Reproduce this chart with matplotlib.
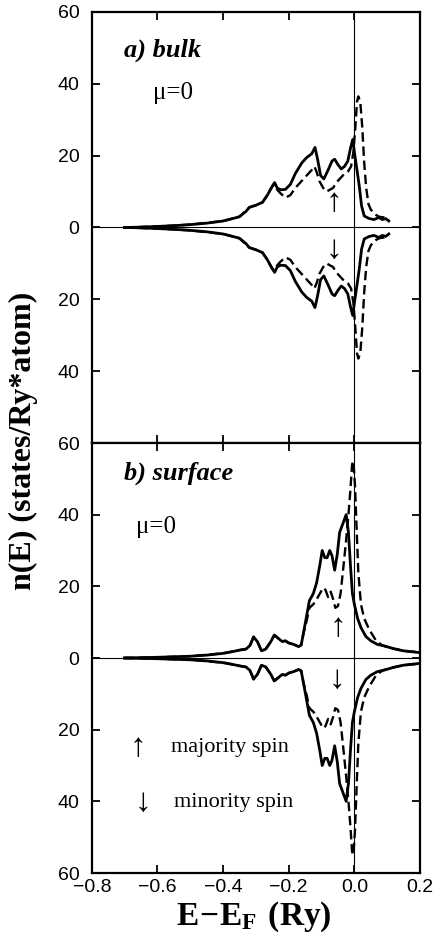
import matplotlib
matplotlib.use('Agg')
import matplotlib.pyplot as plt
from matplotlib.ticker import FuncFormatter

# bulk, solid curve
bulk_solid_e = [-0.70, -0.65, -0.60, -0.55, -0.50, -0.45, -0.40, -0.37, -0.35, -0.33, -0.32, -0.30,
                -0.28, -0.265, -0.25, -0.243, -0.235, -0.225, -0.21, -0.195, -0.18, -0.16, -0.145,
                -0.13, -0.12, -0.112, -0.103, -0.093, -0.08, -0.068, -0.06, -0.05, -0.04, -0.03,
                -0.02, -0.012, -0.005, 0.0, 0.008, 0.015, 0.022, 0.03, 0.045, 0.06, 0.075, 0.085,
                0.095, 0.105]
bulk_solid_n = [0.0, 0.1, 0.3, 0.5, 0.8, 1.2, 1.8, 2.5, 3.0, 4.5, 5.6, 6.2,
                7.0, 9.0, 11.5, 12.5, 11.0, 10.5, 10.6, 12.0, 15.0, 18.0, 19.5,
                20.5, 22.3, 19.0, 14.5, 13.5, 16.0, 18.5, 19.0, 17.5, 16.3, 17.0,
                18.5, 22.0, 24.5, 21.0, 16.0, 11.5, 6.0, 3.2, 2.5, 2.2, 2.8, 2.2,
                2.5, 1.8]

# bulk, dashed curve
bulk_dash_e = [-0.70, -0.60, -0.50, -0.40, -0.35, -0.32, -0.30, -0.28, -0.265, -0.25, -0.243,
               -0.235, -0.225, -0.21, -0.195, -0.18, -0.16, -0.145, -0.13, -0.122, -0.115,
               -0.107, -0.095, -0.085, -0.075, -0.065, -0.055, -0.045, -0.035, -0.02, -0.01,
               -0.003, 0.003, 0.008, 0.012, 0.018, 0.024, 0.03, 0.036, 0.043, 0.05, 0.06,
               0.075, 0.09, 0.105]
bulk_dash_n = [0.0, 0.3, 0.8, 1.8, 3.0, 5.6, 6.2, 7.0, 9.0, 11.5, 12.0,
               10.5, 9.5, 8.3, 9.0, 11.0, 13.0, 14.5, 16.0, 17.0, 15.5,
               13.0, 11.0, 10.0, 10.5, 11.0, 12.5, 13.5, 14.5, 15.5, 17.0,
               21.0, 28.0, 35.0, 36.5, 35.0, 28.0, 18.0, 11.0, 6.5, 5.0, 3.8,
               3.0, 2.8, 2.2]

# surface, solid curve
surf_solid_e = [-0.70, -0.60, -0.50, -0.45, -0.40, -0.37, -0.35, -0.33, -0.318, -0.307, -0.295,
                -0.283, -0.27, -0.255, -0.244, -0.232, -0.22, -0.21, -0.20, -0.185, -0.17,
                -0.162, -0.155, -0.147, -0.137, -0.125, -0.115, -0.105, -0.098, -0.09, -0.083,
                -0.075, -0.068, -0.06, -0.052, -0.045, -0.035, -0.025, -0.018, -0.012, -0.006,
                0.0, 0.01, 0.02, 0.035, 0.05, 0.07, 0.09, 0.12, 0.15, 0.18, 0.20]
surf_solid_n = [0.0, 0.2, 0.5, 0.8, 1.3, 1.8, 2.2, 2.5, 3.5, 5.9, 4.5,
                2.0, 2.5, 4.5, 6.4, 5.5, 4.6, 4.8, 4.2, 3.8, 3.2,
                3.6, 7.0, 11.0, 16.0, 18.0, 21.0, 26.0, 30.0, 28.0, 28.0,
                30.0, 28.5, 24.5, 29.0, 35.0, 37.5, 40.0, 35.0, 26.0, 18.0,
                15.0, 11.0, 8.5, 6.0, 4.8, 3.8, 3.4, 2.6, 2.0, 1.7, 1.5]

# surface, dashed curve
surf_dash_e = [-0.70, -0.60, -0.50, -0.40, -0.35, -0.33, -0.318, -0.307, -0.295, -0.283, -0.27,
               -0.255, -0.244, -0.232, -0.22, -0.21, -0.20, -0.185, -0.17, -0.162, -0.155,
               -0.145, -0.137, -0.125, -0.116, -0.105, -0.095, -0.088, -0.08, -0.072, -0.065,
               -0.058, -0.05, -0.042, -0.035, -0.025, -0.018, -0.012, -0.007, -0.003, 0.002,
               0.006, 0.012, 0.02, 0.03, 0.045, 0.065, 0.085, 0.11, 0.15, 0.20]
surf_dash_n = [0.0, 0.2, 0.5, 1.3, 2.2, 2.5, 3.5, 5.9, 4.5, 2.0, 2.5,
               4.5, 6.4, 5.5, 4.6, 4.8, 4.2, 3.8, 3.2, 3.6, 7.0,
               10.5, 14.0, 15.0, 16.2, 18.0, 19.6, 19.0, 17.0, 18.5, 16.5,
               14.0, 14.5, 18.0, 24.0, 33.0, 40.0, 47.0, 54.0, 55.0, 48.0,
               38.0, 24.0, 15.0, 11.0, 8.0, 5.0, 3.5, 2.8, 2.0, 1.6]

x_ticks = [-0.8, -0.6, -0.4, -0.2, 0.0, 0.2]
y_ticks = [-60, -40, -20, 0, 20, 40, 60]

serif = ['Liberation Serif', 'DejaVu Serif']
plt.rcParams['mathtext.fontset'] = 'custom'
plt.rcParams['mathtext.bf'] = 'Liberation Serif:bold'
plt.rcParams['mathtext.rm'] = 'Liberation Serif:bold'
plt.rcParams['font.family'] = ['Liberation Sans', 'DejaVu Sans']

fig = plt.figure(figsize=(4.33, 9.35), dpi=100)
ax1 = fig.add_axes([0.212, 0.5262, 0.758, 0.4610])
ax2 = fig.add_axes([0.212, 0.0663, 0.758, 0.4599])


def draw_panel(ax, e1, n1, e2, n2):
    # upper half = majority, lower half = minority (mirrored)
    for sign in [1, -1]:
        ax.plot(e1, [sign * v for v in n1], c='k', lw=2.0)
        ax.plot(e2, [sign * v for v in n2], c='k', lw=1.7, dashes=(4, 2))
    ax.axhline(0, c='k', lw=0.8)
    ax.axvline(0, c='k', lw=0.8)
    ax.set_xlim(-0.8, 0.2)
    ax.set_ylim(-60, 60)
    ax.set_xticks(x_ticks)
    ax.set_yticks(y_ticks)
    ax.yaxis.set_major_formatter(FuncFormatter(lambda v, p: '%d' % abs(v)))
    ax.xaxis.set_major_formatter(FuncFormatter(lambda v, p: ('%.1f' % v).replace('-', '\u2212')))
    ax.tick_params(direction='in', top=True, right=True, length=6, width=1.3,
                   labelsize=14, pad=4)
    ax.tick_params(axis='y', pad=9)
    for s in ax.spines.values():
        s.set_linewidth(1.6)


draw_panel(ax1, bulk_solid_e, bulk_solid_n, bulk_dash_e, bulk_dash_n)
draw_panel(ax2, surf_solid_e, surf_solid_n, surf_dash_e, surf_dash_n)

ax1.tick_params(labelbottom=False)
ax1.yaxis.get_major_ticks()[0].label1.set_visible(False)

# panel labels
ax1.text(0.097, 0.912, 'a) bulk', transform=ax1.transAxes, family=serif, fontsize=19,
         fontweight='bold', style='italic', va='center')
ax1.text(0.185, 0.812, '\u03bc=0', transform=ax1.transAxes, family=serif, fontsize=18, va='center')
ax2.text(0.097, 0.930, 'b) surface', transform=ax2.transAxes, family=serif, fontsize=19,
         fontweight='bold', style='italic', va='center')
ax2.text(0.134, 0.805, '\u03bc=0', transform=ax2.transAxes, family=serif, fontsize=18, va='center')

# spin arrows inside the plots
ax1.text(-0.061, 7.0, '\u2191', family=serif, fontsize=24, ha='center', va='center')
ax1.text(-0.061, -6.3, '\u2193', family=serif, fontsize=24, ha='center', va='center')
ax2.text(-0.049, 8.4, '\u2191', family=serif, fontsize=24, ha='center', va='center')
ax2.text(-0.052, -6.1, '\u2193', family=serif, fontsize=24, ha='center', va='center')

# legend text
ax2.text(0.14, 0.291, '\u2191', transform=ax2.transAxes, family=serif, fontsize=24,
         ha='center', va='center')
ax2.text(0.240, 0.291, 'majority spin', transform=ax2.transAxes, family=serif, fontsize=16,
         va='center')
ax2.text(0.155, 0.163, '\u2193', transform=ax2.transAxes, family=serif, fontsize=24,
         ha='center', va='center')
ax2.text(0.249, 0.163, 'minority spin', transform=ax2.transAxes, family=serif, fontsize=16,
         va='center')

fig.text(0.055, 0.528, 'n(E) (states/Ry*atom)', rotation=90, family=serif, fontsize=23,
         fontweight='bold', ha='center', va='center')
fig.text(0.585, 0.0107, r'$\mathbf{E\!-\!E_F\ (Ry)}$', fontsize=24, ha='center', va='baseline')

fig.savefig('out.png', dpi=100)
